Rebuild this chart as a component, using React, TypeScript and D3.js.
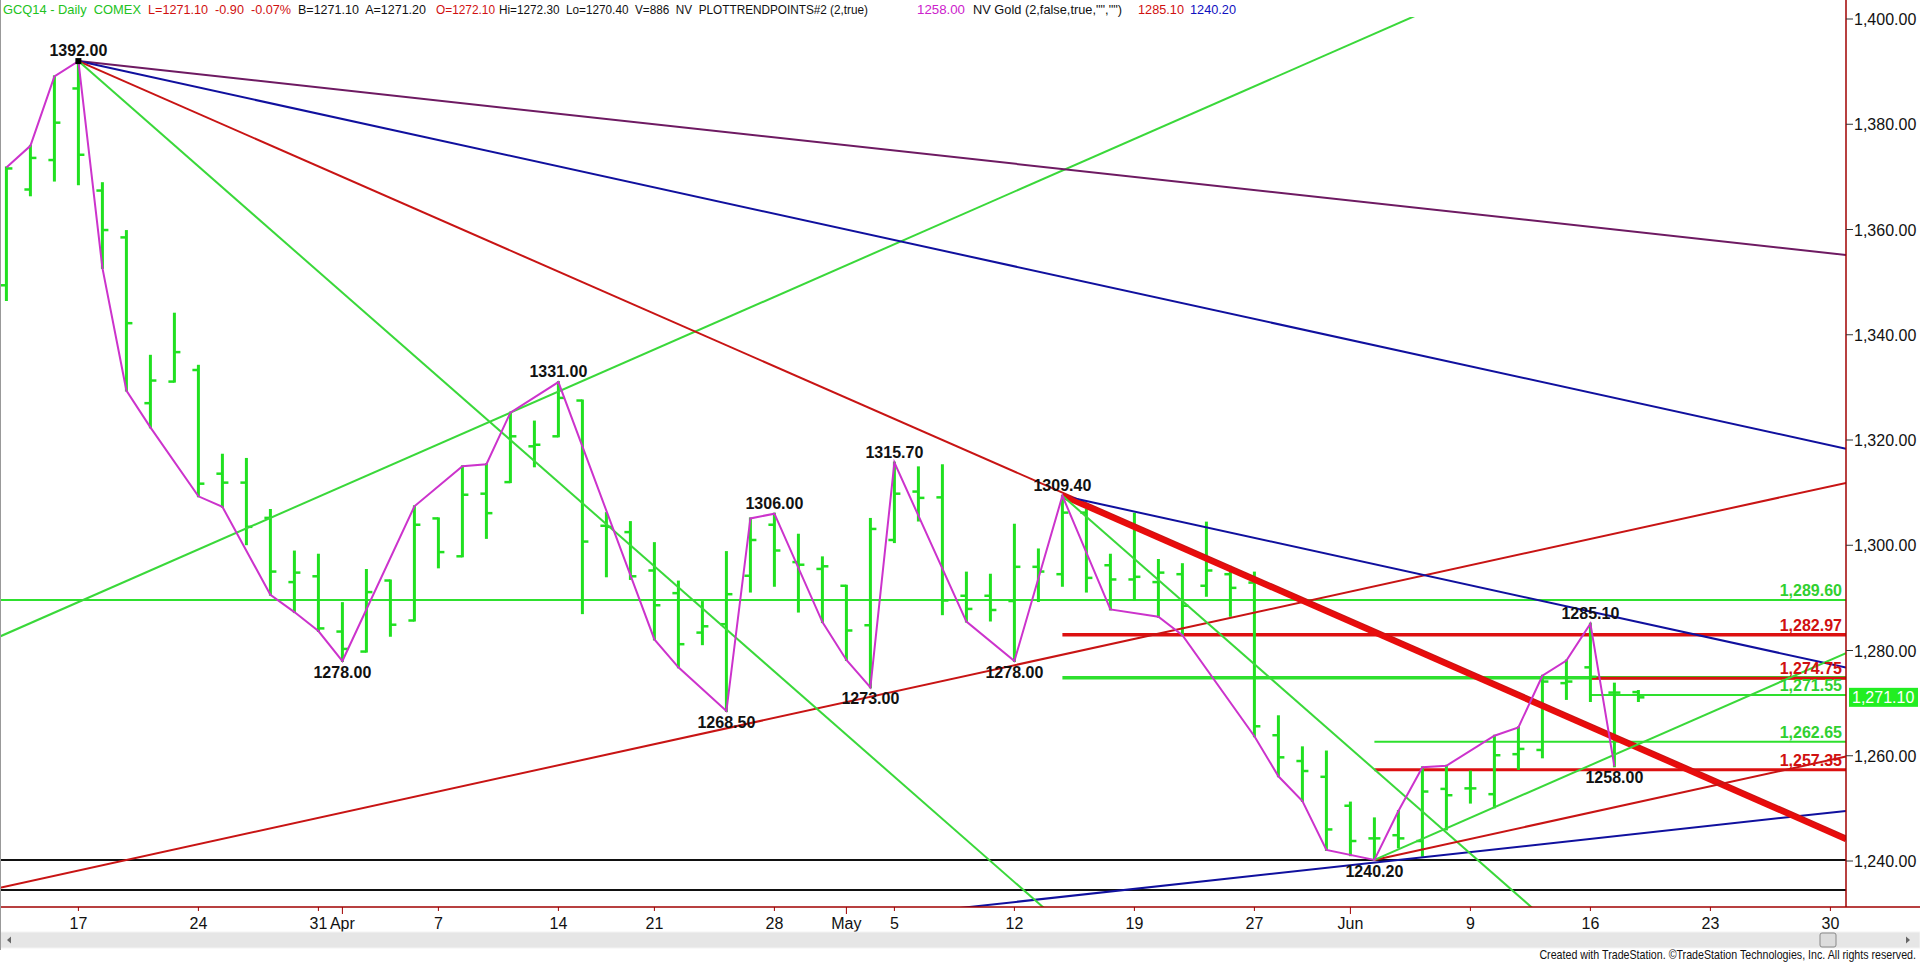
import React from 'react';
import * as d3 from 'd3';

// ---------- DATA ----------
const holidays = ['2014-04-18', '2014-05-26'];
const fmtDay = d3.timeFormat('%Y-%m-%d');
const tradingDays: Date[] = d3.timeDay
  .range(new Date(2014, 2, 12), new Date(2014, 6, 1))
  .filter((d) => d.getDay() !== 0 && d.getDay() !== 6 && !holidays.includes(fmtDay(d)));

const barOpen = [
  1349.4, 1367.6, 1373.2, 1386.8, 1367.4, 1358.5, 1327.0, 1331.1, 1333.3, 1313.6,
  1311.9, 1305.2, 1293.0, 1294.1, 1283.6, 1279.8, 1293.3, 1285.7, 1305.1, 1297.9,
  1309.8, 1312.0, 1318.8, 1320.7, 1327.5, 1303.7, 1302.5, 1295.2, 1290.9, 1283.4,
  1285.0, 1294.2, 1303.9, 1296.8, 1295.5, 1292.3, 1284.8, 1301.0, 1310.2, 1309.1,
  1290.4, 1290.4, 1289.4, 1295.9, 1294.5, 1306.2, 1296.2, 1293.5, 1293.0, 1294.5,
  1292.3, 1294.5, 1292.9, 1263.9, 1259.0, 1256.0, 1250.5, 1244.3, 1244.9, 1243.8,
  1253.7, 1253.8, 1252.7, 1260.3, 1261.1, 1273.8, 1276.8, 1272.0, 1272.1,
];
const barHigh = [
  1371.8, 1375.9, 1389.1, 1392.0, 1368.8, 1359.7, 1336.0, 1344.0, 1334.1, 1317.2,
  1316.4, 1306.7, 1298.8, 1298.2, 1289.0, 1295.3, 1293.3, 1307.4, 1305.1, 1315.0,
  1315.4, 1325.2, 1323.5, 1331.0, 1327.5, 1306.1, 1304.4, 1300.4, 1293.1, 1289.2,
  1298.7, 1305.1, 1306.0, 1302.0, 1297.7, 1292.3, 1305.0, 1315.7, 1314.8, 1315.2,
  1294.8, 1294.4, 1303.9, 1299.2, 1309.4, 1306.8, 1298.2, 1306.0, 1297.2, 1296.4,
  1304.3, 1295.9, 1294.8, 1267.5, 1261.6, 1260.8, 1251.1, 1248.1, 1249.5, 1257.8,
  1258.1, 1257.0, 1263.8, 1265.4, 1275.2, 1278.1, 1285.1, 1273.7, 1272.3,
];
const barLow = [
  1346.6, 1366.5, 1369.3, 1368.6, 1352.7, 1329.4, 1322.4, 1331.1, 1309.3, 1307.3,
  1300.2, 1290.6, 1287.3, 1283.7, 1278.0, 1279.8, 1282.8, 1285.7, 1295.8, 1297.9,
  1301.4, 1312.0, 1315.0, 1320.7, 1287.1, 1294.1, 1293.6, 1282.1, 1276.8, 1281.2,
  1268.5, 1291.2, 1292.3, 1287.4, 1285.4, 1278.2, 1273.0, 1300.6, 1304.7, 1286.9,
  1285.5, 1285.7, 1278.0, 1289.4, 1292.3, 1291.2, 1287.8, 1289.7, 1286.4, 1282.9,
  1290.4, 1286.6, 1263.7, 1256.1, 1251.4, 1242.1, 1241.1, 1240.2, 1242.6, 1241.0,
  1246.0, 1251.1, 1250.2, 1257.5, 1259.7, 1270.8, 1270.4, 1258.0, 1270.4,
];
const barClose = [
  1371.6, 1373.6, 1380.3, 1374.2, 1359.9, 1342.2, 1331.3, 1336.7, 1311.7, 1311.9,
  1303.5, 1295.0, 1294.8, 1284.2, 1280.3, 1291.1, 1284.9, 1303.9, 1298.7, 1309.6,
  1306.1, 1320.7, 1319.1, 1328.0, 1300.7, 1303.5, 1294.1, 1288.6, 1281.2, 1284.6,
  1290.7, 1301.0, 1299.0, 1296.3, 1296.0, 1283.8, 1303.1, 1309.8, 1309.0, 1289.5,
  1287.9, 1287.7, 1295.9, 1295.0, 1306.2, 1293.8, 1293.5, 1294.0, 1294.8, 1288.5,
  1295.2, 1291.9, 1265.6, 1259.7, 1257.1, 1246.0, 1243.8, 1244.3, 1244.3, 1253.2,
  1252.5, 1253.8, 1260.1, 1261.3, 1274.1, 1274.1, 1275.0, 1272.0, 1271.1,
];

// zigzag swing points (bar index, H = high, L = low)
const swingBars = [0, 1, 2, 3, 4, 5, 6, 8, 9, 11, 12, 13, 14, 17, 19, 20, 21, 23, 27, 28, 30, 31, 32, 34, 35, 36, 37, 40, 42, 44, 46, 48, 49, 52, 53, 54, 55, 57, 58, 59, 60, 62, 63, 64, 65, 66, 67];
const swingKind = 'HHHHLLLLLLLLLHHHHHLLLHHLLLHLLHLLLLLLLLHHHHHHHHL';

const pivotLabelBars = [3, 14, 23, 30, 32, 36, 37, 42, 44, 57, 66, 67];
const pivotLabelKind = 'HLHLHLHLHLHL';

// Gann fans: anchor bar index, anchor price, slopes (points per bar), colors, widths
const fanAnchorBar = [-48, 3, 44, 57];
const fanAnchorPrice = [1187.2, 1392.0, 1309.4, 1240.2];
const fanSlopes = [[0.5, 1, 2], [-0.5, -1, -2, -4], [-1, -2, -4], [1, 2]];
const fanColors = [
  ['#10109e', '#c81414', '#3ad83a'],
  ['#6e1a62', '#10109e', '#c81414', '#3ad83a'],
  ['#10109e', '#e80c0c', '#3ad83a'],
  ['#c81414', '#3ad83a'],
];
const fanWidths = [[2, 2, 2], [2, 2, 2, 2], [2, 5.5, 2], [2, 2]];

// horizontal retracement levels
const levelPrice = [1289.6, 1282.97, 1274.8, 1274.75, 1271.55, 1262.65, 1257.35, 1240.2, 1234.5];
const levelFromBar = [null, 44, 44, 66, 66, 57, 57, null, null];
const levelColor = ['#2ee02e', '#dc1010', '#2ee02e', '#dc1010', '#2ee02e', '#2ee02e', '#dc1010', '#111', '#111'];
const levelWidth = [2, 3.5, 3.5, 3, 2, 2, 3, 2, 2];
const levelLabel = ['1,289.60', '1,282.97', '', '1,274.75', '1,271.55', '1,262.65', '1,257.35', '', ''];

const yTicks = [1240, 1260, 1280, 1300, 1320, 1340, 1360, 1380, 1400];
const lastPrice = 1271.1;

const headerParts = [
  { t: 'GCQ14 - Daily  COMEX', c: '#22c222', x: 3, w: 138 },
  { t: 'L=1271.10  -0.90  -0.07%', c: '#d01010', x: 148, w: 143 },
  { t: 'B=1271.10  A=1271.20', c: '#111', x: 298, w: 128 },
  { t: 'O=1272.10', c: '#d01010', x: 436, w: 59 },
  { t: 'Hi=1272.30  Lo=1270.40  V=886  NV  PLOTTRENDPOINTS#2 (2,true)', c: '#111', x: 499, w: 369 },
  { t: '1258.00', c: '#cc22cc', x: 917, w: 48 },
  { t: 'NV Gold (2,false,true,"","")', c: '#111', x: 973, w: 149 },
  { t: '1285.10', c: '#d01010', x: 1138, w: 46 },
  { t: '1240.20', c: '#1010c0', x: 1190, w: 46 },
];

// ---------- CHART ----------
const PLOT_R = 1846;
const PLOT_T = 17;
const PLOT_B = 907;
const BAR_COLOR = '#20e020';

export default function App() {
  const n = tradingDays.length;
  const x = d3.scaleLinear().domain([0, n - 1]).range([6.4, 6.4 + (n - 1) * 24]);
  const y = d3.scaleLinear().domain([1240, 1400]).range([861, 19]);
  const fmtP = d3.format(',.2f');

  const zig = d3
    .line<number>()
    .x((b) => x(b))
    .y((b, i) => y(swingKind[i] === 'H' ? barHigh[b] : barLow[b]));

  // bottom axis ticks
  const xTicks: { i: number; label: string; month: boolean }[] = [];
  tradingDays.forEach((d, i) => {
    if (i === 0) return;
    const prev = tradingDays[i - 1];
    const monthStart = d.getMonth() !== prev.getMonth();
    const weekStart = +d3.timeMonday.floor(d) !== +d3.timeMonday.floor(prev);
    if (monthStart) xTicks.push({ i, label: d3.timeFormat('%b')(d), month: true });
    else if (weekStart) xTicks.push({ i, label: String(d.getDate()), month: false });
  });

  const rightIdx = x.invert(PLOT_R);
  const leftIdx = x.invert(0);

  const fanLines: JSX.Element[] = [];
  fanAnchorBar.forEach((a, k) => {
    fanSlopes[k].forEach((s, j) => {
      const i0 = Math.max(a, leftIdx);
      const p0 = fanAnchorPrice[k] + s * (i0 - a);
      const p1 = fanAnchorPrice[k] + s * (rightIdx - a);
      fanLines.push(
        <line
          key={`fan${k}-${j}`}
          x1={x(i0)}
          y1={y(p0)}
          x2={x(rightIdx)}
          y2={y(p1)}
          stroke={fanColors[k][j]}
          strokeWidth={fanWidths[k][j]}
        />
      );
    });
  });

  return (
    <svg
      width={1920}
      height={964}
      style={{ position: 'absolute', left: 0, top: 0, background: '#fff' }}
      fontFamily="'Liberation Sans', Arial, sans-serif"
    >
      <defs>
        <clipPath id="plot">
          <rect x={0} y={PLOT_T} width={PLOT_R} height={PLOT_B - PLOT_T} />
        </clipPath>
      </defs>
      <rect x={0} y={0} width={1920} height={964} fill="#fff" />

      {/* header */}
      {headerParts.map((h, i) => (
        <text
          key={i}
          x={h.x}
          y={14}
          fontSize={13}
          fill={h.c}
          textLength={h.w}
          lengthAdjust="spacingAndGlyphs"
          style={{ whiteSpace: 'pre' }}
        >
          {h.t}
        </text>
      ))}

      <g clipPath="url(#plot)">
        {/* horizontal levels (lines) */}
        {levelPrice.map((p, i) => (
          <line
            key={`lv${i}`}
            x1={levelFromBar[i] == null ? 0 : x(levelFromBar[i] as number)}
            x2={PLOT_R}
            y1={y(p)}
            y2={y(p)}
            stroke={levelColor[i]}
            strokeWidth={levelWidth[i]}
          />
        ))}

        {/* bars */}
        {barHigh.map((h, i) => (
          <g key={`b${i}`} stroke={BAR_COLOR}>
            <line x1={x(i)} x2={x(i)} y1={y(h) - 1} y2={y(barLow[i]) + 1} strokeWidth={3} />
            <line x1={x(i) - 6} x2={x(i)} y1={y(barOpen[i])} y2={y(barOpen[i])} strokeWidth={2.5} />
            <line x1={x(i)} x2={x(i) + 6} y1={y(barClose[i])} y2={y(barClose[i])} strokeWidth={2.5} />
          </g>
        ))}

        {/* fans */}
        {fanLines}

        {/* zigzag */}
        <path d={zig(swingBars) || ''} fill="none" stroke="#cc33cc" strokeWidth={2} />

        <rect x={x(3) - 3} y={y(1392) - 3} width={6} height={6} fill="#000" />

        {/* pivot labels */}
        {pivotLabelBars.map((b, i) => {
          const hi = pivotLabelKind[i] === 'H';
          const v = hi ? barHigh[b] : barLow[b];
          return (
            <text
              key={`pl${i}`}
              x={x(b)}
              y={hi ? y(v) - 5 : y(v) + 17}
              textAnchor="middle"
              fontSize={16}
              fontWeight="bold"
              fill="#111"
            >
              {v.toFixed(2)}
            </text>
          );
        })}

        {/* level labels */}
        {levelPrice.map((p, i) =>
          levelLabel[i] ? (
            <text
              key={`ll${i}`}
              x={1842}
              y={y(p) - 4}
              textAnchor="end"
              fontSize={16}
              fontWeight="bold"
              fill={levelColor[i] === '#2ee02e' ? '#30d030' : '#d01010'}
            >
              {levelLabel[i]}
            </text>
          ) : null
        )}
      </g>

      {/* right axis */}
      <line x1={PLOT_R} x2={PLOT_R} y1={0} y2={PLOT_B} stroke="#a00000" strokeWidth={1.5} />
      {yTicks.map((t) => (
        <g key={`yt${t}`}>
          <line x1={PLOT_R} x2={PLOT_R + 7} y1={y(t)} y2={y(t)} stroke="#333" />
          <text x={PLOT_R + 8} y={y(t) + 6} fontSize={16} fill="#111">
            {fmtP(t)}
          </text>
        </g>
      ))}
      <rect x={1849} y={y(lastPrice) - 9.5} width={69} height={19} fill="#22ee22" />
      <text x={1852} y={y(lastPrice) + 6} fontSize={16} fill="#fff">
        {fmtP(lastPrice)}
      </text>

      {/* bottom axis */}
      <line x1={0} x2={1920} y1={PLOT_B} y2={PLOT_B} stroke="#a00000" strokeWidth={1.5} />
      {xTicks.map((t) => (
        <g key={`xt${t.i}`}>
          <line x1={x(t.i)} x2={x(t.i)} y1={PLOT_B} y2={PLOT_B + (t.month ? 7 : 4)} stroke="#a00000" />
          <text x={x(t.i)} y={929} textAnchor="middle" fontSize={16} fill="#111">
            {t.label}
          </text>
        </g>
      ))}

      {/* scrollbar */}
      <rect x={0} y={932} width={1920} height={16} fill="#e6e6e6" stroke="#f4f4f4" />
      <path d="M11,936.5 L7,940 L11,943.5 Z" fill="#666" />
      <path d="M1906,936.5 L1910,940 L1906,943.5 Z" fill="#666" />
      <rect x={1820} y={933} width={16} height={14} rx={2} fill="#dcdcdc" stroke="#888" />

      <text
        transform="translate(1916,959) scale(0.89,1)"
        x={0}
        y={0}
        textAnchor="end"
        fontSize={12}
        fill="#111"
      >
        Created with TradeStation. ©TradeStation Technologies, Inc. All rights reserved.
      </text>

      <line x1={0.5} x2={0.5} y1={0} y2={950} stroke="#999" />
    </svg>
  );
}
